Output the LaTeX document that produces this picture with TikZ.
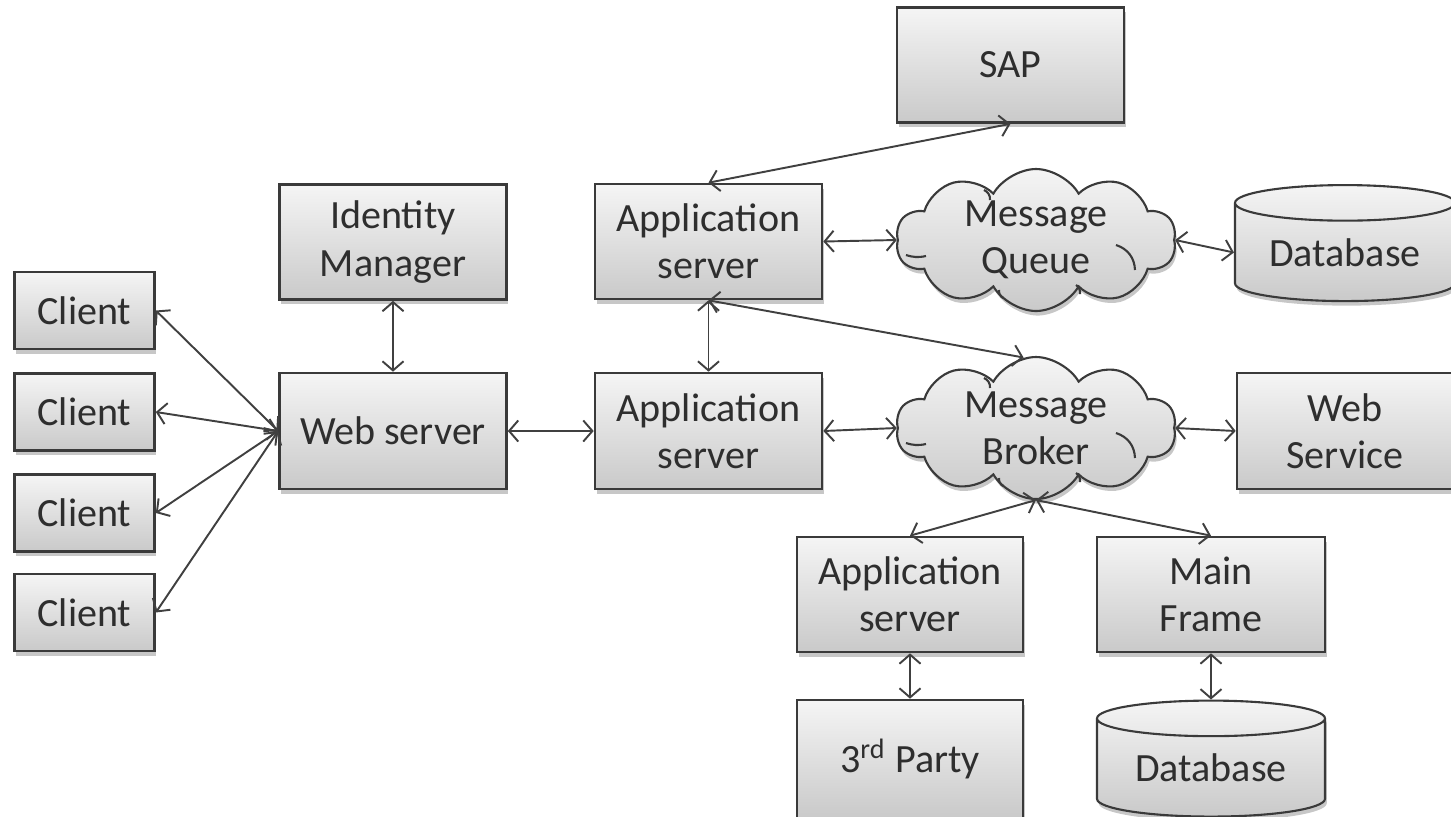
\documentclass[tikz,border=0pt]{standalone}
\usepackage{fontspec}
\setmainfont{Carlito}
\usetikzlibrary{shapes.geometric,shapes.symbols,shadows,arrows.meta}
\definecolor{txt}{HTML}{2E2E2E}
\definecolor{edge}{HTML}{3A3A3A}
\definecolor{lnk}{HTML}{404040}
\tikzset{
  base/.style={draw=edge, line width=0.75pt, top color=gray!8, bottom color=gray!42,
    text=txt, align=center, inner sep=0pt,
    font=\fontsize{11.4pt}{13.4pt}\selectfont,
    drop shadow={shadow xshift=0.5pt, shadow yshift=-1.3pt, fill=black, opacity=0.22}},
  box/.style={base, rectangle, minimum width=2.27cm, minimum height=1.15cm},
  clientbox/.style={base, rectangle, minimum width=1.40cm, minimum height=0.77cm},
  cloudnode/.style={base, cloud, cloud puffs=10, cloud puff arc=120, cloud ignores aspect,
    minimum width=2.8cm, minimum height=1.42cm, line width=0.6pt},
  cloudarc/.style={draw=edge, line width=0.6pt},
  dbnode/.style={base, cylinder, shape border rotate=90, aspect=0.235,
    minimum width=2.2cm, minimum height=1.16cm, line width=0.6pt},
  link/.style={draw=lnk, line width=0.55pt, {Straight Barb[length=2.6pt,width=6pt]}-{Straight Barb[length=2.6pt,width=6pt]}}
}
\begin{document}
\begin{tikzpicture}[x=1cm,y=1cm]
\useasboundingbox (0,0) rectangle (14.51,-8.16);
\node[box] (sap) at (10.105,-0.65) {SAP};
\node[box] (idm) at (3.93,-2.42) {Identity\\Manager};
\node[box] (app1) at (7.085,-2.415) {Application\\server};
\node[cloudnode] (mq) at (10.36,-2.40) {Message\\Queue};
\node[dbnode] (db1) at (13.45,-2.525) {Database};
\node[clientbox] (c1) at (0.845,-3.105) {Client};
\node[clientbox] (c2) at (0.845,-4.12) {Client};
\node[clientbox] (c3) at (0.845,-5.13) {Client};
\node[clientbox] (c4) at (0.845,-6.125) {Client};
\node[box, minimum height=1.16cm] (web) at (3.93,-4.31) {Web server};
\node[box, minimum height=1.16cm] (app2) at (7.085,-4.31) {Application\\server};
\node[cloudnode] (mb) at (10.36,-4.28) {Message\\Broker};
\node[box, minimum width=2.16cm, minimum height=1.16cm] (ws) at (13.45,-4.31) {Web\\Service};
\node[box, minimum width=2.26cm] (app3) at (9.10,-5.945) {Application\\server};
\node[box, minimum width=2.28cm] (mf) at (12.11,-5.945) {Main\\Frame};
\node[box, minimum width=2.26cm, minimum height=1.18cm] (party) at (9.10,-7.59) {3\textsuperscript{rd} Party};
\node[dbnode, minimum width=2.28cm] (db2) at (12.11,-7.68) {Database};
% inner arcs of the clouds
\foreach \cl in {mq,mb}{
  \begin{scope}[shift={(\cl.center)}]
    \draw[cloudarc] (-1.30,-0.15) to[bend right=15] (-1.10,-0.16);
    \draw[cloudarc] (0.80,-0.05) to[bend left=35] (0.99,-0.30);
    \draw[cloudarc] (-0.52,0.50) to[bend left=35] (-0.46,0.40);
    \draw[cloudarc] (-0.37,-0.50) to[bend right=30] (-0.33,-0.58);
    \draw[cloudarc] (0.40,-0.45) to[bend left=30] (0.44,-0.54);
  \end{scope}
}
% connectors
\foreach \c in {c1,c2,c3,c4} \draw[link] (\c.east) -- (web.west);
\draw[link] (idm.south) -- (web.north);
\draw[link] (web.east) -- (app2.west);
\draw[link] (app1.north) -- (sap.south);
\draw[link] (app1.east) -- (mq.west);
\draw[link] (mq.east) -- (db1.west);
\draw[link] (app1.south) -- (app2.north);
\draw[link] (app1.south) -- (mb.100);
\draw[link] (app2.east) -- (mb.west);
\draw[link] (mb.east) -- (ws.west);
\draw[link] (mb.south) -- (app3.north);
\draw[link] (mb.south) -- (mf.north);
\draw[link] (app3.south) -- (party.north);
\draw[link] (mf.south) -- (db2.north);
\end{tikzpicture}
\end{document}
